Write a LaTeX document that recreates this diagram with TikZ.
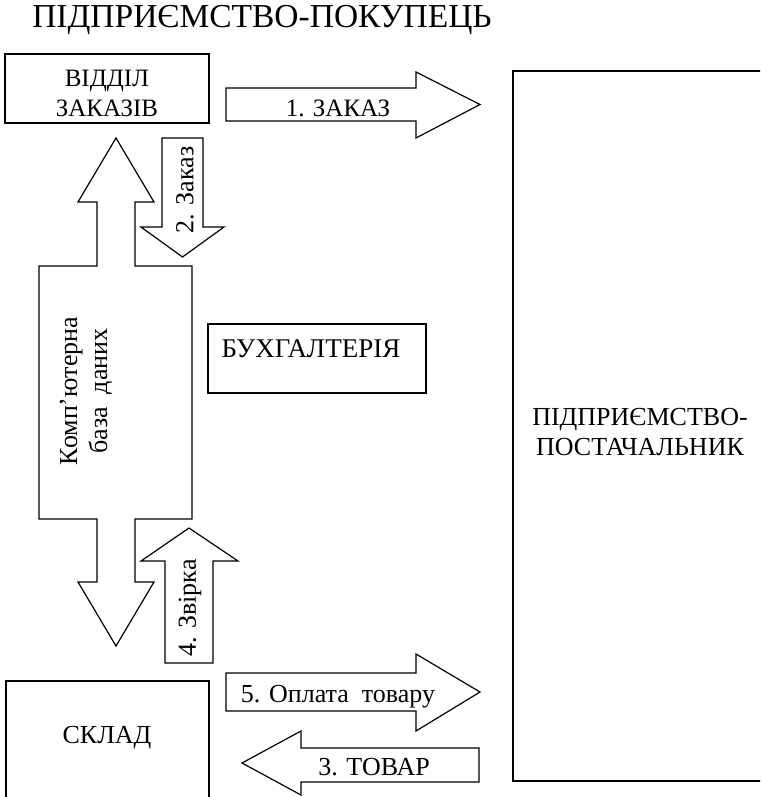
\documentclass[tikz,border=0pt]{standalone}
\usepackage{fontspec}
\setmainfont{Liberation Serif}
\begin{document}
\begin{tikzpicture}[x=1pt,y=-1pt,
  shp/.style={draw=black,line width=1.2pt,fill=white,line join=miter},
  lbl/.style={inner sep=0pt,font=\fontsize{26}{30}\selectfont,align=center},
  ttl/.style={inner sep=0pt,font=\fontsize{33.5}{38}\selectfont}]
\useasboundingbox (0,0) rectangle (760,797);
\clip (0,0) rectangle (760,797);
% title
\node[ttl,anchor=base] (title) at (262,28) {ПІДПРИЄМСТВО-ПОКУПЕЦЬ};
% boxes
\draw[shp] (5,54) rectangle (209,123);
\node[lbl,anchor=base,font=\fontsize{25}{30}\selectfont] (orders1) at (107,87) {ВІДДІЛ};
\node[lbl,anchor=base,font=\fontsize{25}{30}\selectfont] (orders2) at (107,117) {ЗАКАЗІВ};
\draw[shp] (208,324) rectangle (426,393);
\node[lbl,anchor=base,font=\fontsize{27}{30}\selectfont] (acc) at (311,357) {БУХГАЛТЕРІЯ};
\draw[shp] (6,681) rectangle (209,810);
\node[lbl,anchor=base] (store) at (107,743) {СКЛАД};
\draw[shp] (513,71) rectangle (770,781);
\node[lbl,anchor=base] (supp1) at (640,425) {ПІДПРИЄМСТВО-};
\node[lbl,anchor=base] (supp2) at (640,455) {ПОСТАЧАЛЬНИК};
% big double arrow (database)
\draw[shp] (116,138) -- (154,202) -- (135,202) -- (135,266) -- (192,266) -- (192,519)
  -- (135,519) -- (135,582) -- (154,582) -- (116,646) -- (78,582) -- (97,582)
  -- (97,519) -- (39,519) -- (39,266) -- (97,266) -- (97,202) -- (78,202) -- cycle;
\node[lbl,rotate=90] (db) at (86,391) {Комп’ютерна\\база\ \ даних};
% arrow 1
\draw[shp] (226,88) -- (416,88) -- (416,72) -- (480,104.5) -- (416,138) -- (416,121) -- (226,121) -- cycle;
\node[lbl,anchor=base,font=\fontsize{25}{30}\selectfont] (a1) at (338,117) {1. ЗАКАЗ};
% arrow 2
\draw[shp] (162,138) -- (203,138) -- (203,227) -- (224,227) -- (182.5,257) -- (141,227) -- (162,227) -- cycle;
\node[lbl,rotate=90] (a2) at (185,190) {2. Заказ};
% arrow 4
\draw[shp] (165,663) -- (213,663) -- (213,561) -- (238,561) -- (189,528) -- (141,561) -- (165,561) -- cycle;
\node[lbl,rotate=90] (a4) at (190,608) {4. Звірка};
% arrow 5
\draw[shp] (226,673) -- (416,673) -- (416,654) -- (480,692) -- (416,731) -- (416,711) -- (226,711) -- cycle;
\node[lbl,anchor=base] (a5) at (338,702) {5. Оплата\ \ товару};
% arrow 3
\draw[shp] (479,748) -- (301,748) -- (301,731) -- (242,763) -- (301,795) -- (301,782) -- (479,782) -- cycle;
\node[lbl,anchor=base] (a3) at (374,775) {3. ТОВАР};
\end{tikzpicture}
\end{document}
